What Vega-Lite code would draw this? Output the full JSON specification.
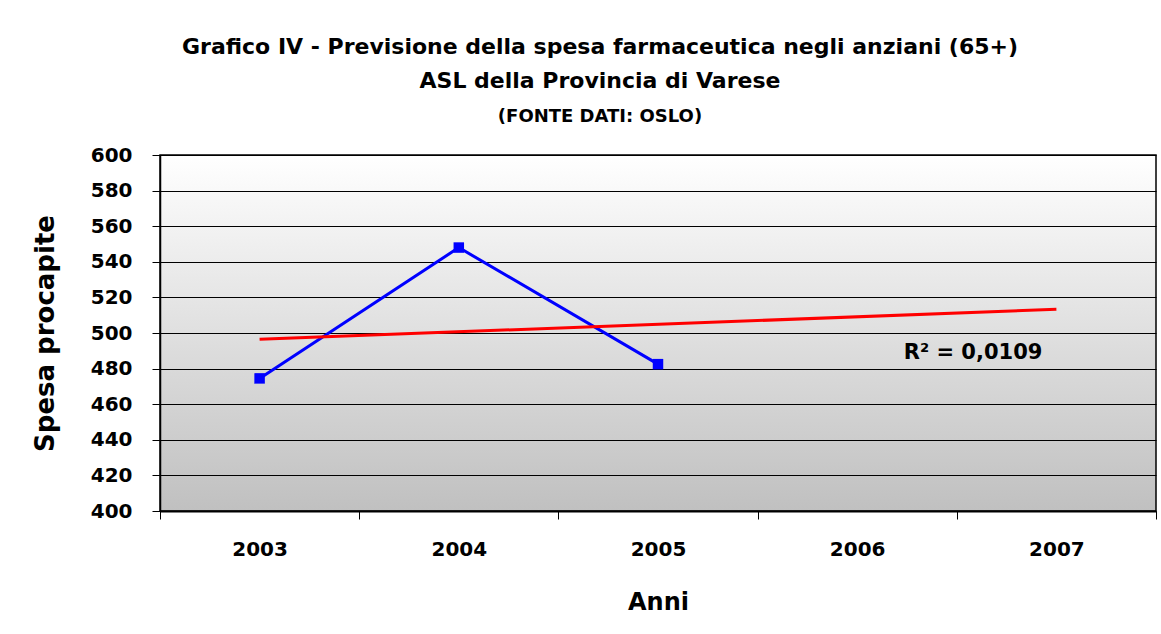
{
  "$schema": "https://vega.github.io/schema/vega-lite/v6.json",
  "width": 996,
  "height": 356,
  "autosize": {"type": "none"},
  "padding": {"left": 160, "top": 155, "right": 5, "bottom": 123},
  "background": "white",
  "title": {
    "text": ["Grafico IV -  Previsione della spesa farmaceutica negli anziani (65+)", "ASL della Provincia di Varese"],
    "subtitle": "(FONTE DATI: OSLO)",
    "anchor": "middle",
    "frame": "group",
    "dx": -58,
    "offset": 18,
    "font": "DejaVu Sans",
    "fontSize": 22,
    "fontWeight": "bold",
    "lineHeight": 34,
    "color": "black",
    "subtitleFont": "DejaVu Sans",
    "subtitleFontSize": 18,
    "subtitleFontWeight": "bold",
    "subtitleColor": "black",
    "subtitlePadding": 15
  },
  "datasets": {
    "spesa": [
      {"anno": "2003", "spesa": 474.5},
      {"anno": "2004", "spesa": 548},
      {"anno": "2005", "spesa": 482.5}
    ],
    "tendenza": [
      {"anno": "2003", "trend": 496.5},
      {"anno": "2007", "trend": 513.3}
    ],
    "etichetta": [
      {"anno": "2007", "valore": 489, "testo": "R² = 0,0109"}
    ]
  },
  "encoding": {
    "x": {
      "field": "anno",
      "type": "nominal",
      "bandPosition": 0.5,
      "scale": {"type": "band", "domain": ["2003", "2004", "2005", "2006", "2007"], "paddingInner": 0, "paddingOuter": 0},
      "axis": {
        "title": "Anni",
        "labelAngle": 0,
        "tickBand": "extent",
        "tickSize": 8,
        "tickColor": "black",
        "domain": true,
        "domainColor": "black",
        "domainWidth": 2,
        "labelPadding": 20,
        "labelFont": "DejaVu Sans",
        "labelFontSize": 20,
        "labelFontWeight": "bold",
        "labelColor": "black",
        "titleFont": "DejaVu Sans",
        "titleFontSize": 24,
        "titleFontWeight": "bold",
        "titleColor": "black",
        "titlePadding": 31,
        "grid": false
      }
    }
  },
  "layer": [
    {
      "data": {"name": "spesa"},
      "mark": {"type": "line", "color": "#0000ff", "strokeWidth": 3, "point": {"shape": "square", "size": 110, "filled": true, "color": "#0000ff", "opacity": 1}},
      "encoding": {
        "y": {
          "field": "spesa",
          "type": "quantitative",
          "scale": {"domain": [400, 600], "nice": false, "zero": false},
          "axis": {
            "title": "Spesa procapite",
            "values": [400, 420, 440, 460, 480, 500, 520, 540, 560, 580, 600],
            "tickCount": 11,
            "labelOverlap": false,
            "grid": true,
            "gridColor": "black",
            "gridOpacity": 1,
            "gridWidth": 1,
            "domainColor": "black",
            "domainWidth": 1.5,
            "tickColor": "black",
            "tickSize": 8,
            "labelPadding": 20,
            "labelFont": "DejaVu Sans",
            "labelFontSize": 20,
            "labelFontWeight": "bold",
            "labelColor": "black",
            "titleFont": "DejaVu Sans",
            "titleFontSize": 26,
            "titleFontWeight": "bold",
            "titleColor": "black",
            "titleX": -115,
            "titleY": 178,
            "titleAngle": -90,
            "titleAlign": "center",
            "titleBaseline": "middle"
          }
        }
      }
    },
    {
      "data": {"name": "tendenza"},
      "mark": {"type": "line", "color": "#ff0000", "strokeWidth": 3},
      "encoding": {
        "y": {"field": "trend", "type": "quantitative"}
      }
    },
    {
      "data": {"name": "etichetta"},
      "mark": {"type": "text", "align": "right", "baseline": "middle", "dx": -14, "font": "DejaVu Sans", "fontSize": 21, "fontWeight": "bold", "color": "black"},
      "encoding": {
        "y": {"field": "valore", "type": "quantitative"},
        "text": {"field": "testo"}
      }
    }
  ],
  "config": {
    "view": {
      "stroke": "black",
      "strokeWidth": 1.5,
      "fill": {
        "gradient": "linear",
        "x1": 0, "y1": 0, "x2": 0, "y2": 1,
        "stops": [
          {"offset": 0, "color": "#ffffff"},
          {"offset": 1, "color": "#c0c0c0"}
        ]
      }
    }
  }
}
